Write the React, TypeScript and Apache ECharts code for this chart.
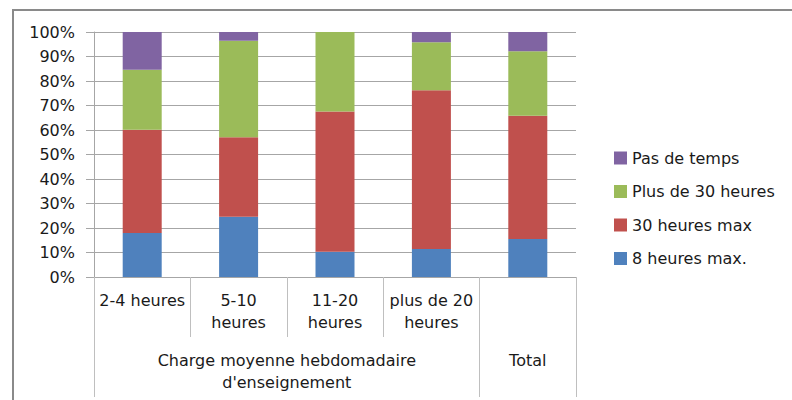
import React, { useEffect, useRef } from "react";
import * as echarts from "echarts";

const categories = ["2-4 heures", "5-10\nheures", "11-20\nheures", "plus de 20\nheures", ""];
const groupNames = ["Charge moyenne hebdomadaire\nd'enseignement", "Total"];
const groupSpans = [4, 1];
const seriesNames = ["8 heures max.", "30 heures max", "Plus de 30 heures", "Pas de temps"];
const legendOrder = ["Pas de temps", "Plus de 30 heures", "30 heures max", "8 heures max."];
const huitHeures = [18, 24.6, 10.3, 11.4, 15.5];
const trenteMax = [42.1, 32.4, 57.3, 64.8, 50.3];
const plusTrente = [24.5, 39.4, 32.4, 19.6, 26.3];
const pasDeTemps = [15.4, 3.6, 0, 4.2, 7.9];
const yTicks = [0, 10, 20, 30, 40, 50, 60, 70, 80, 90, 100];

const colors = ["#4F81BD", "#C0504D", "#9BBB59", "#8064A2"];
const FONT = "'DejaVu Sans', sans-serif";

export default function App() {
  const ref = useRef<HTMLDivElement>(null);
  useEffect(() => {
    if (!ref.current) return;
    const chart = echarts.init(ref.current, null, { renderer: "svg" });
    const values = [huitHeures, trenteMax, plusTrente, pasDeTemps];
    const boundaries: number[] = [0];
    const centers: number[] = [];
    let acc = 0;
    groupSpans.forEach((s) => {
      centers.push(acc + s / 2);
      acc += s;
      boundaries.push(acc);
    });
    chart.setOption({
      animation: false,
      color: colors,
      textStyle: { fontFamily: FONT },
      grid: { left: 94, right: 216, top: 32, bottom: 123, containLabel: false },
      legend: {
        data: legendOrder,
        orient: "vertical",
        left: 609,
        top: 145,
        itemWidth: 13,
        itemHeight: 13,
        itemGap: 17.5,
        icon: "rect",
        textStyle: { fontSize: 16, color: "#1a1a1a", fontFamily: FONT, lineHeight: 16 },
      },
      graphic: [
        {
          type: "rect",
          shape: { x: 13, y: 10, width: 800, height: 400 },
          style: { fill: "none", stroke: "#8a8a8a", lineWidth: 2 },
          silent: true,
        },
      ],
      xAxis: [
        {
          type: "category",
          data: categories,
          axisLine: { show: true, lineStyle: { color: "#a6a6a6", width: 1 } },
          axisTick: { show: true, interval: 0, alignWithLabel: false, length: 60, lineStyle: { color: "#bfbfbf" } },
          axisLabel: {
            interval: 0,
            margin: 12,
            fontSize: 16,
            lineHeight: 22,
            color: "#1a1a1a",
            fontFamily: FONT,
          },
          splitLine: { show: false },
        },
        {
          type: "value",
          position: "bottom",
          min: 0,
          max: categories.length,
          axisLine: { show: false },
          axisTick: { show: true, customValues: boundaries, length: 120, lineStyle: { color: "#bfbfbf" } },
          axisLabel: {
            customValues: centers,
            margin: 72,
            fontSize: 16,
            lineHeight: 22,
            color: "#1a1a1a",
            fontFamily: FONT,
            formatter: (v: number) => {
              const i = centers.indexOf(v);
              return i >= 0 ? groupNames[i] : "";
            },
          },
          splitLine: { show: false },
        },
      ],
      yAxis: {
        type: "value",
        min: yTicks[0],
        max: yTicks[yTicks.length - 1],
        interval: 10,
        axisLine: { show: true, lineStyle: { color: "#a6a6a6" } },
        axisTick: { show: true, length: 8, lineStyle: { color: "#a6a6a6" } },
        axisLabel: {
          margin: 19,
          fontSize: 16,
          color: "#1a1a1a",
          fontFamily: FONT,
          formatter: "{value}%",
        },
        splitLine: { show: true, lineStyle: { color: "#a6a6a6", width: 1 } },
      },
      series: seriesNames.map((name, i) => ({
        name,
        type: "bar",
        stack: "total",
        xAxisIndex: 0,
        barWidth: 39,
        data: values[i],
        itemStyle: { color: colors[i] },
      })),
    });
    return () => chart.dispose();
  }, []);
  return (
    <div
      ref={ref}
      style={{ position: "fixed", left: 0, top: 0, width: 792, height: 400, background: "#fff" }}
    />
  );
}
